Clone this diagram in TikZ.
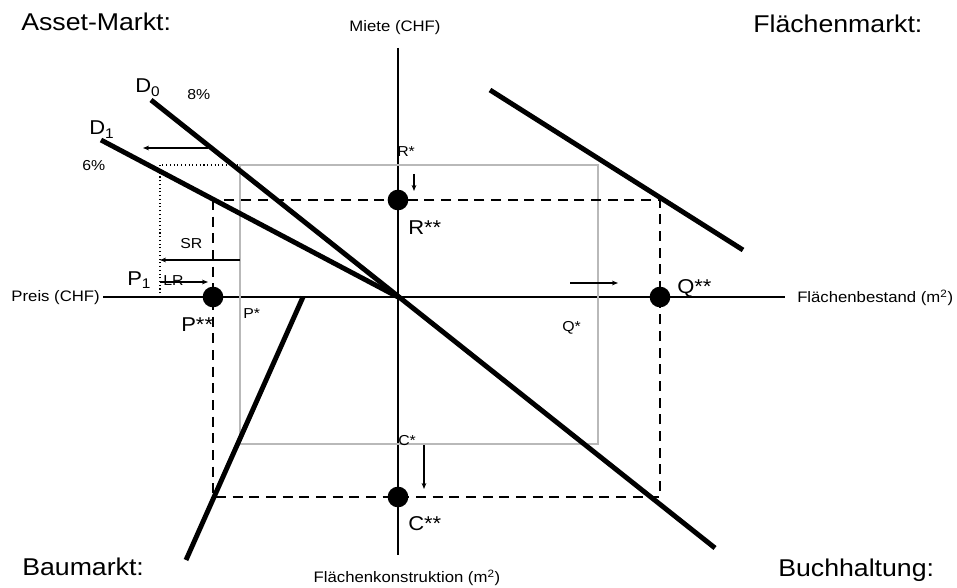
\documentclass[tikz,border=0pt]{standalone}
\usepackage{fontspec}
\setmainfont[FakeStretch=1.1]{Liberation Sans}
\usetikzlibrary{arrows.meta}
\newcommand\mktfont{\fontsize{18.2}{20}\selectfont}
\newcommand\axfont{\fontsize{11.4}{13}\selectfont}
\newcommand\ptfont{\fontsize{15}{17}\selectfont}
\newcommand\smfont{\fontsize{10.8}{12}\selectfont}

\begin{document}
\begin{tikzpicture}[x=0.75pt,y=-0.75pt,
  dot/.style={circle,fill=black,inner sep=0pt,minimum size=15.5pt},
  heavy/.style={line width=3.7pt},
  axis/.style={line width=2pt},
  eqbox/.style={line width=1.9pt,dash pattern=on 7.5pt off 5pt},
  oldbox/.style={line width=1.1pt,color=gray!55},
  hint/.style={line width=0.8pt,dotted},
  move/.style={line width=0.8pt,-{Stealth[length=4.5pt,width=3.5pt]}},
  mkt/.style={font=\mktfont,anchor=base west,inner sep=0pt},
  axlabel/.style={font=\axfont,inner sep=0pt},
  ptlabel/.style={font=\ptfont,anchor=base west,inner sep=0pt},
  smlabel/.style={font=\smfont,anchor=base west,inner sep=0pt}]

   \useasboundingbox (0,0) rectangle (957,588);

   % axes
   \coordinate (O) at (398,297);
   \coordinate (ytop) at (398,48);
   \coordinate (ybot) at (398,555);
   \coordinate (xleft) at (103,297);
   \coordinate (xright) at (785,297);
   \draw[axis] (ytop) -- (ybot);
   \draw[axis] (xleft) -- (xright);

   % old equilibrium
   \draw[oldbox] (240,165) rectangle (598,444);
   \draw[hint] (160,297) -- (160,165) -- (240,165);

   % new equilibrium
   \draw[eqbox] (213,200) rectangle (660,497);

   % curves
   \draw[heavy] (151,100) -- (715,548);
   \draw[heavy] (101,140) -- (O);
   \draw[heavy] (490,90) -- (743,250);
   \draw[heavy] (303,297) -- (186,560);

   % shifts
   \draw[move] (208,148) -- (143,148);
   \draw[move] (240,260) -- (160,260);
   \draw[move] (160,282) -- (208,282);
   \draw[move] (414,174) -- (414,191);
   \draw[move] (570,283) -- (618,283);
   \draw[move] (424,445) -- (424,489);

   % equilibrium points
   \node[dot] (R) at (398,200) {};
   \node[dot] (P) at (213,297) {};
   \node[dot] (Q) at (660,297) {};
   \node[dot] (C) at (398,497) {};

   % axis labels
   \node[axlabel] (miete) at (395,28) {Miete (CHF)};
   \node[axlabel,anchor=east] (preis) at (100,298) {Preis (CHF)};
   \node[axlabel,anchor=west] (bestand) at (797,298) {Flächenbestand (m\textsuperscript{2})};
   \node[axlabel] (konstr) at (407,578) {Flächenkonstruktion (m\textsuperscript{2})};

   % markets
   \node[mkt] (asset) at (21,31) {Asset-Markt:};
   \node[mkt] (flaeche) at (753,33) {Flächenmarkt:};
   \node[mkt] (bau) at (22,575) {Baumarkt:};
   \node[mkt] (buch) at (778,576) {Buchhaltung:};

   % point labels
   \node[ptlabel] (d0) at (135,93) {D\textsubscript{0}};
   \node[ptlabel] (d1) at (89,135) {D\textsubscript{1}};
   \node[smlabel] (r8) at (187,100) {8\%};
   \node[smlabel] (r6) at (82,171) {6\%};
   \node[smlabel] (sr) at (180,248) {SR};
   \node[smlabel] (lr) at (163,285) {LR};
   \node[ptlabel] (p1) at (127,285) {P\textsubscript{1}};
   \node[ptlabel] (pss) at (181,331) {P**};
   \node[smlabel] (ps) at (243,318) {P*};
   \node[smlabel] (rs) at (397,157) {R*};
   \node[ptlabel] (rss) at (408,234) {R**};
   \node[smlabel] (qs) at (562,331) {Q*};
   \node[ptlabel] (qss) at (677,293) {Q**};
   \node[smlabel] (cs) at (398,445) {C*};
   \node[ptlabel] (css) at (408,530) {C**};
  \end{tikzpicture}
\end{document}
